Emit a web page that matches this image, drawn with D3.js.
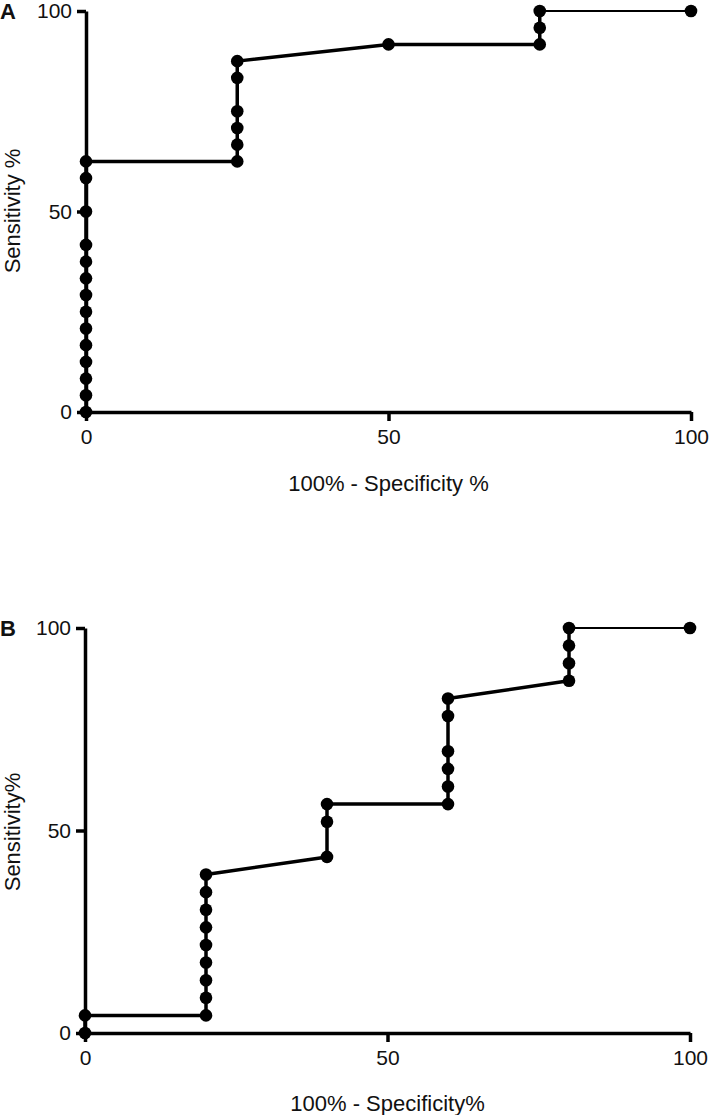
<!DOCTYPE html>
<html>
<head>
<meta charset="utf-8">
<script src="https://cdn.jsdelivr.net/npm/d3@7"></script>
<style>
  html, body { margin: 0; padding: 0; background: #fff; }
  svg { display: block; }
  text { font-family: "Liberation Sans", Arial, sans-serif; fill: #111; }
</style>
</head>
<body>
<svg id="chart" width="709" height="1115"></svg>
<script>
// ---- Data ----
const xTicks = [0, 50, 100];
const yTicks = [0, 50, 100];

// Panel A
const aLabel = "A";
const aXTitle = "100% - Specificity %";
const aYTitle = "Sensitivity %";
const aX = [0,0,0,0,0,0,0,0,0,0,0,0,0,0, 25,25,25,25,25,25, 50, 75,75,75, 100];
const aY = [0,4.17,8.33,12.5,16.67,20.83,25,29.17,33.33,37.5,41.67,50,58.33,62.5,
            62.5,66.67,70.83,75,83.33,87.5, 91.67, 91.67,95.83,100, 100];

// Panel B
const bLabel = "B";
const bXTitle = "100% - Specificity%";
const bYTitle = "Sensitivity%";
const bX = [0,0, 20,20,20,20,20,20,20,20,20, 40,40,40, 60,60,60,60,60,60, 80,80,80,80, 100];
const bY = [0,4.35, 4.35,8.7,13.04,17.39,21.74,26.09,30.43,34.78,39.13,
            43.48,52.17,56.52, 56.52,60.87,65.22,69.57,78.26,82.61,
            86.96,91.3,95.65,100, 100];

const svg = d3.select("#chart");

function panel(cfg) {
  const x = d3.scaleLinear().domain([0, 100]).range([cfg.left, cfg.right]);
  const y = d3.scaleLinear().domain([0, 100]).range([cfg.bottom, cfg.top]);
  const g = svg.append("g");
  const pts = cfg.xs.map((v, i) => ({ x: v, y: cfg.ys[i] }));

  // axes
  const yAxis = d3.axisLeft(y).tickValues(yTicks).tickSize(9).tickSizeOuter(0).tickPadding(5);
  const xAxis = d3.axisBottom(x).tickValues(xTicks).tickSize(9).tickSizeOuter(0).tickPadding(8);

  const ya = g.append("g").attr("transform", `translate(${cfg.left},0)`).call(yAxis);
  const xa = g.append("g").attr("transform", `translate(0,${cfg.bottom})`).call(xAxis);
  [ya, xa].forEach(a => {
    a.select(".domain").attr("stroke", "#000").attr("stroke-width", 3.5);
    a.selectAll(".tick line").attr("stroke", "#000").attr("stroke-width", 3.5);
    a.selectAll(".tick text").attr("font-size", 21).attr("fill", "#111")
      .style("font-family", '"Liberation Sans", Arial, sans-serif');
  });

  // line (main part thick, last segment thinner)
  const line = d3.line().x(d => x(d.x)).y(d => y(d.y));
  g.append("path").datum(pts.slice(0, -1)).attr("d", line)
    .attr("fill", "none").attr("stroke", "#000").attr("stroke-width", 3.5)
    .attr("stroke-linejoin", "round");
  g.append("path").datum(pts.slice(-2)).attr("d", line)
    .attr("fill", "none").attr("stroke", "#000").attr("stroke-width", 2);

  // points
  g.selectAll("circle.pt").data(pts).join("circle")
    .attr("class", "pt")
    .attr("cx", d => x(d.x)).attr("cy", d => y(d.y)).attr("r", 6.3)
    .attr("fill", "#000");

  // titles
  g.append("text")
    .attr("x", (cfg.left + cfg.right) / 2).attr("y", cfg.xTitleY)
    .attr("text-anchor", "middle").attr("dy", "0.35em")
    .attr("font-size", 22).text(cfg.xTitle);
  g.append("text")
    .attr("transform", `translate(12,${cfg.yTitleY}) rotate(-90)`)
    .attr("text-anchor", "middle").attr("dy", "0.35em")
    .attr("font-size", 22).text(cfg.yTitle);
  g.append("text")
    .attr("x", 0).attr("y", cfg.top).attr("dy", "0.36em")
    .attr("font-size", 22).attr("font-weight", "bold").text(cfg.label);
}

panel({ left: 86, right: 691, top: 11, bottom: 412, xs: aX, ys: aY,
        xTitle: aXTitle, yTitle: aYTitle, label: aLabel, xTitleY: 483, yTitleY: 211 });
panel({ left: 85, right: 690, top: 628, bottom: 1033, xs: bX, ys: bY,
        xTitle: bXTitle, yTitle: bYTitle, label: bLabel, xTitleY: 1103, yTitleY: 832 });
</script>
</body>
</html>
